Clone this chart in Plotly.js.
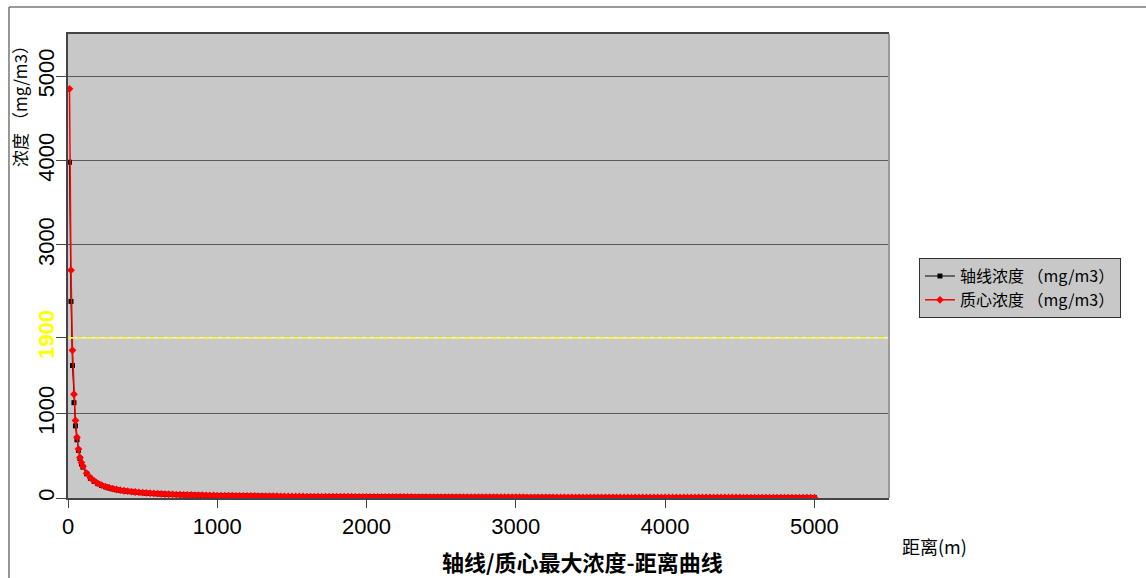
<!DOCTYPE html>
<html>
<head>
<meta charset="utf-8">
<script src="https://cdn.plot.ly/plotly-3.0.1.min.js"></script>
<style>html,body{margin:0;padding:0;background:#fff;}#chart{width:1146px;height:578px;}</style>
</head>
<body>
<div id="chart"></div>
<script>
// Distances (m)
var distance = [10,20,30,40,50,60,70,80,90,100,
125,150,175,200,225,250,275,300,325,350,375,400,425,450,475,500,525,550,575,600,625,650,675,700,725,750,775,800,825,850,875,900,925,950,975,1000,
1025,1050,1075,1100,1125,1150,1175,1200,1225,1250,1275,1300,1325,1350,1375,1400,1425,1450,1475,1500,
1525,1550,1575,1600,1625,1650,1675,1700,1725,1750,1775,1800,1825,1850,1875,1900,1925,1950,1975,2000,
2025,2050,2075,2100,2125,2150,2175,2200,2225,2250,2275,2300,2325,2350,2375,2400,2425,2450,2475,2500,2525,2550,2575,2600,2625,2650,2675,2700,2725,2750,2775,2800,2825,2850,2875,2900,2925,2950,2975,3000,
3025,3050,3075,3100,3125,3150,3175,3200,3225,3250,3275,3300,3325,3350,3375,3400,3425,3450,3475,3500,3525,3550,3575,3600,3625,3650,3675,3700,3725,3750,3775,3800,3825,3850,3875,3900,3925,3950,3975,4000,
4025,4050,4075,4100,4125,4150,4175,4200,4225,4250,4275,4300,4325,4350,4375,4400,4425,4450,4475,4500,4525,4550,4575,4600,4625,4650,4675,4700,4725,4750,4775,4800,4825,4850,4875,4900,4925,4950,4975,5000];

// 轴线浓度 (mg/m3)
var axisConc = [3980,2330,1570,1130,855,690,565,468,408,366,
287,234,197,170,148,133,119,108,98,90,84,79,74,69,65,61,58,55,52,50,48,46,44,42,40,39,37,36,35,34,33,32,31,30,29,28,
27,27,26,26,25,25,24,24,23,23,22,22,21,21,20,20,19,19,18,18,
18,18,17,17,17,16,16,16,16,15,15,15,15,14,14,14,14,13,13,13,
13,13,13,12,12,12,12,12,12,11,11,11,11,11,11,11,10,10,10,10,10,10,10,10,10,9,9,9,9,9,9,9,9,9,9,8,8,8,8,8,
8,8,8,8,8,8,8,8,8,8,7,7,7,7,7,7,7,7,7,7,7,7,7,7,7,7,7,6,6,6,6,6,6,6,6,6,6,6,6,6,
6,6,6,6,6,6,6,6,6,6,6,6,6,5,5,5,5,5,5,5,5,5,5,5,5,5,5,5,5,5,5,5,5,5,5,5,5,5,5,5];

// 质心浓度 (mg/m3)
var centroidConc = [4850,2700,1750,1230,920,720,580,480,420,376,
294,240,202,174,152,136,122,111,101,93,86,81,76,71,67,63,60,57,54,51,49,47,45,43,41,40,38,37,36,35,34,33,32,31,30,29,
28,28,27,27,26,26,25,25,24,24,23,23,22,22,21,21,20,20,19,19,
18,18,18,17,17,17,17,16,16,16,16,15,15,15,15,15,14,14,14,14,
13,13,13,13,13,12,12,12,12,12,12,12,11,11,11,11,11,11,11,11,10,10,10,10,10,10,10,10,10,10,9,9,9,9,9,9,9,9,9,9,
9,9,8,8,8,8,8,8,8,8,8,8,8,8,8,7,7,7,7,7,7,7,7,7,7,7,7,7,7,7,7,7,7,6,6,6,6,6,6,6,
6,6,6,6,6,6,6,6,6,6,6,6,6,6,6,6,6,6,6,6,5,5,5,5,5,5,5,5,5,5,5,5,5,5,5,5,5,5,5,5];

var seriesNames = ['轴线浓度 （mg/m3）', '质心浓度 （mg/m3）'];
var xTickVals = [0,1000,2000,3000,4000,5000];
var xTickText = ['0','1000','2000','3000','4000','5000'];
var yTickVals = [0,1000,1900,3000,4000,5000];
var yTickText = ['0','1000','<span style="color:#ffff00"><b>1900</b></span>','3000','4000','5000'];
var limitValue = 1900;

var cjk = '"Noto Sans CJK SC", "Noto Sans", sans-serif';
var sans = '"Liberation Sans", Arial, sans-serif';

var traces = [
  {x: distance, y: axisConc, name: seriesNames[0], type: 'scatter', mode: 'lines+markers',
   line: {color: '#000000', width: 1}, marker: {symbol: 'square', size: 5, color: '#000000'}},
  {x: distance, y: centroidConc, name: seriesNames[1], type: 'scatter', mode: 'lines+markers',
   line: {color: '#ff0000', width: 1.5}, marker: {symbol: 'diamond', size: 6, color: '#ff0000'}}
];

var layout = {
  width: 1146, height: 578, autosize: false,
  margin: {l: 68, r: 257, t: 34, b: 80, pad: 0},
  paper_bgcolor: '#ffffff', plot_bgcolor: '#c8c8c8',
  showlegend: true,
  legend: {x: 1.0365, y: 0.517, xanchor: 'left', yanchor: 'top', bgcolor: '#c8c8c8',
           bordercolor: '#333333', borderwidth: 1, font: {family: cjk, size: 16, color: '#000'},
           tracegroupgap: 0},
  xaxis: {range: [0, 5500], tickvals: xTickVals, ticktext: xTickText, showgrid: false, zeroline: false,
          ticks: 'outside', ticklen: 8, tickcolor: '#444', tickwidth: 1,
          showline: true, linecolor: '#444', linewidth: 2, mirror: true,
          tickfont: {family: sans, size: 22, color: '#000'}},
  yaxis: {range: [0, 5500], tickvals: yTickVals, ticktext: yTickText, showgrid: true, gridcolor: '#5a5a5a', gridwidth: 1,
          zeroline: false, ticks: 'outside', ticklen: 10, tickcolor: '#444', tickwidth: 1,
          showline: true, linecolor: '#444', linewidth: 2, tickangle: -90, ticklabelstandoff: -7,
          tickfont: {family: sans, size: 22, color: '#000'}},
  shapes: [
    {type: 'line', xref: 'paper', yref: 'y', x0: 0, x1: 1, y0: limitValue, y1: limitValue, line: {color: '#f4f4f4', width: 1.5}},
    {type: 'line', xref: 'paper', yref: 'y', x0: 0, x1: 1, y0: limitValue, y1: limitValue, line: {color: '#ffff00', width: 1.5, dash: '6px,3px'}},
    {type: 'line', xref: 'paper', yref: 'paper', x0: 1, x1: 1, y0: 0, y1: 1, line: {color: '#9a9a9a', width: 2}},
    {type: 'line', xref: 'paper', yref: 'paper', x0: -0.0719, x1: 1.4, y0: 1.058, y1: 1.058, line: {color: '#777', width: 1.5}},
    {type: 'line', xref: 'paper', yref: 'paper', x0: -0.0719, x1: -0.0719, y0: 1.058, y1: -0.3, line: {color: '#777', width: 1.5}}
  ],
  annotations: [
    {text: '浓度 （mg/m3）', xref: 'paper', yref: 'paper', x: -0.0585, y: 0.998, xanchor: 'center', yanchor: 'top',
     textangle: -90, showarrow: false, font: {family: cjk, size: 17, color: '#000'}},
    {text: '距离(m)', xref: 'paper', yref: 'paper', x: 1.0134, y: -0.1034, xanchor: 'left', yanchor: 'middle',
     showarrow: false, font: {family: cjk, size: 18, color: '#000'}},
    {text: '<b>轴线/质心最大浓度-距离曲线</b>', xref: 'paper', yref: 'paper', x: 0.627, y: -0.1358, xanchor: 'center', yanchor: 'middle',
     showarrow: false, font: {family: cjk, size: 22, color: '#000'}}
  ]
};

Plotly.newPlot('chart', traces, layout, {displayModeBar: false, staticPlot: true});
</script>
</body>
</html>
